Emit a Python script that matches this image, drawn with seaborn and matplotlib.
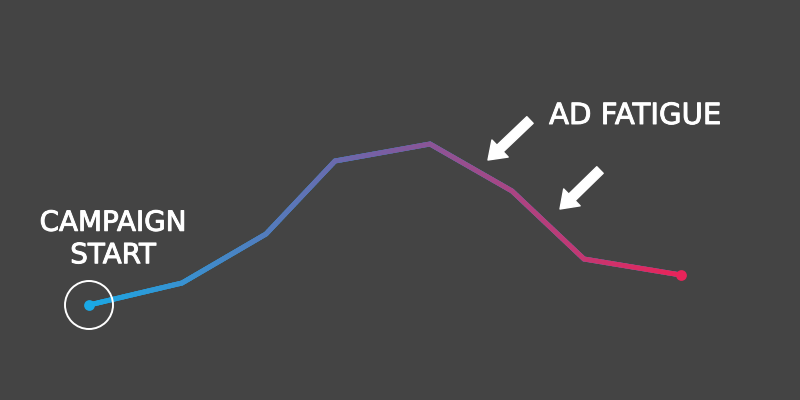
import numpy as np
import pandas as pd
import seaborn as sns
import matplotlib
matplotlib.use("Agg")
import matplotlib.pyplot as plt
import matplotlib.patheffects as pe
from matplotlib.collections import LineCollection
from matplotlib.colors import LinearSegmentedColormap
from matplotlib.patches import Circle

# data (x = timeline position, y = engagement level)
time_pos = [89, 182, 266, 335, 430, 512, 584, 681]
engagement = [95, 117, 166, 239, 256, 209, 141, 125]
label_start = "CAMPAIGN\nSTART"
label_fatigue = "AD FATIGUE"

BG = "#444444"
C_START = "#1aa9e6"
C_END = "#e8245a"

sns.set_theme(style="dark")
plt.rcParams['font.family'] = ['DejaVu Sans']

df = pd.DataFrame({"t": time_pos, "v": engagement})

fig = plt.figure(figsize=(8, 4), dpi=100, facecolor=BG)
ax = fig.add_axes([0, 0, 1, 1])
ax.set_facecolor(BG)
ax.set_xlim(0, 800)
ax.set_ylim(0, 400)
ax.axis("off")

sns.lineplot(data=df, x="t", y="v", ax=ax, color=C_START, linewidth=3.6,
             legend=False, solid_joinstyle="miter")

# horizontal colour gradient over the line
cmap = LinearSegmentedColormap.from_list("g", [C_START, "#7a5ea2", C_END])
segs, cols = [], []
xmin, xmax = time_pos[0], time_pos[-1]
for i in range(len(time_pos) - 1):
    x0, x1 = time_pos[i], time_pos[i + 1]
    y0, y1 = engagement[i], engagement[i + 1]
    n = 30
    for k in range(n):
        a, b = k / n, (k + 1) / n
        xa, xb = x0 + (x1 - x0) * a, x0 + (x1 - x0) * b
        ya, yb = y0 + (y1 - y0) * a, y0 + (y1 - y0) * b
        segs.append([(xa, ya), (xb, yb)])
        cols.append(cmap(((xa + xb) / 2 - xmin) / (xmax - xmin)))
lc = LineCollection(segs, colors=cols, linewidths=3.6, capstyle="round", zorder=3)
ax.add_collection(lc)

# endpoint dots
ax.scatter([time_pos[0]], [engagement[0]], s=60, color=C_START, zorder=4, linewidths=0)
ax.scatter([time_pos[-1]], [engagement[-1]], s=60, color=C_END, zorder=4, linewidths=0)

# circle around start
ax.add_patch(Circle((time_pos[0], engagement[0]), 24, fill=False,
                    edgecolor="white", linewidth=1.4, zorder=5))

thick = [pe.withStroke(linewidth=0.7, foreground="white")]
ax.text(113, 161, label_start, color="white", fontsize=20, ha="center",
        va="center", linespacing=1.2, path_effects=thick)
ax.text(635, 284, label_fatigue, color="white", fontsize=21, ha="center",
        va="center", path_effects=thick)

arrow_kw = dict(arrowstyle="simple,head_length=0.6,head_width=0.85,tail_width=0.33",
                color="white", shrinkA=0, shrinkB=0, mutation_scale=20)
ax.annotate("", xy=(488, 240), xytext=(530, 280), arrowprops=arrow_kw)
ax.annotate("", xy=(560, 191), xytext=(600, 230), arrowprops=arrow_kw)

fig.savefig("out.png", dpi=100, facecolor=BG)
